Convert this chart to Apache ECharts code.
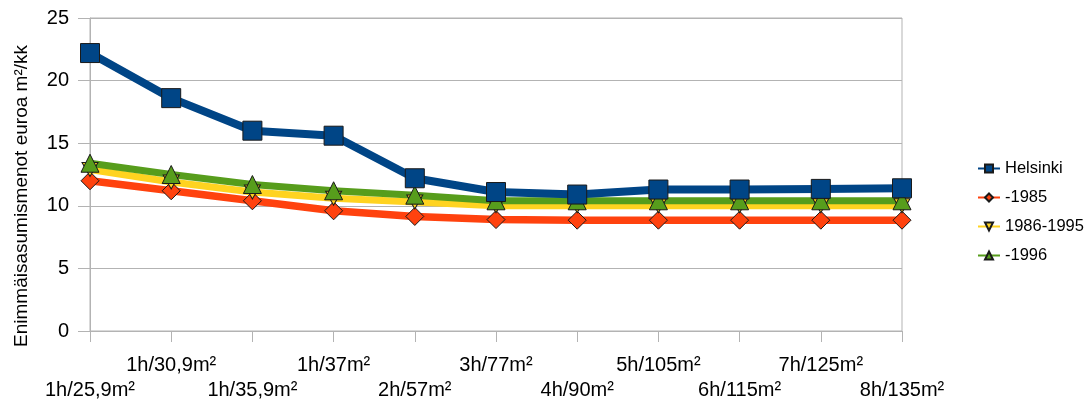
<!DOCTYPE html>
<html>
<head>
<meta charset="utf-8">
<script src="https://cdn.jsdelivr.net/npm/echarts@6/dist/echarts.min.js"></script>
<style>
  html, body { margin: 0; padding: 0; background: #ffffff; }
  #chart { width: 1089px; height: 403px; }
</style>
</head>
<body>
<div id="chart"></div>
<script>
// Apartment size categories (rooms / floor area)
const categories = ['1h/25,9m²', '1h/30,9m²', '1h/35,9m²', '1h/37m²', '2h/57m²', '3h/77m²',
                    '4h/90m²', '5h/105m²', '6h/115m²', '7h/125m²', '8h/135m²'];

// Maximum housing costs, euro per m² per month
const helsinki = [22.2, 18.6, 16.0, 15.6, 12.2, 11.1, 10.9, 11.3, 11.3, 11.35, 11.4];
const upTo1985 = [12.0, 11.2, 10.4, 9.6, 9.15, 8.9, 8.85, 8.85, 8.85, 8.85, 8.85];
const from1986to1995 = [12.9, 11.9, 11.1, 10.6, 10.3, 10.0, 10.0, 10.0, 10.0, 10.0, 10.0];
const from1996 = [13.4, 12.5, 11.7, 11.2, 10.85, 10.4, 10.4, 10.4, 10.4, 10.4, 10.4];

const yTicks = { min: 0, max: 25, interval: 5 };
const yTitle = 'Enimmäisasumismenot euroa m²/kk';

const FONT = '"Liberation Sans", Arial, sans-serif';
const GRID_COLOR = '#b3b3b3';

function lineSeries(name, data, color, symbol, symbolSize, width) {
  return {
    name: name,
    type: 'line',
    data: data,
    symbol: symbol,
    symbolSize: symbolSize,
    showAllSymbol: true,
    lineStyle: { color: color, width: width },
    itemStyle: { color: color, borderColor: '#1a1a1a', borderWidth: 1 },
    emphasis: { disabled: true },
    animation: false
  };
}

const chart = echarts.init(document.getElementById('chart'), null, { renderer: 'canvas' });

chart.setOption({
  backgroundColor: '#ffffff',
  animation: false,
  textStyle: { fontFamily: FONT },
  grid: {
    left: 90, right: 187, top: 18, bottom: 72,
    show: true, borderColor: GRID_COLOR, borderWidth: 1, backgroundColor: 'transparent'
  },
  legend: {
    orient: 'vertical',
    left: 972,
    top: 155,
    itemWidth: 22,
    itemHeight: 10,
    itemGap: 12,
    textStyle: { fontFamily: FONT, fontSize: 16.5, color: '#000000' },
    data: ['Helsinki', '-1985', '1986-1995', '-1996']
  },
  xAxis: {
    type: 'category',
    data: categories,
    boundaryGap: false,
    axisLine: { show: true, lineStyle: { color: GRID_COLOR, width: 1 } },
    axisTick: { show: true, length: 11, alignWithLabel: true, interval: 0, lineStyle: { color: GRID_COLOR } },
    splitLine: { show: false },
    axisLabel: {
      interval: 0,
      hideOverlap: false,
      margin: 22,
      fontFamily: FONT,
      fontSize: 20,
      lineHeight: 25,
      color: '#000000',
      formatter: function (value, index) {
        // alternate rows so the long labels do not collide
        return index % 2 === 0 ? '\n' + value : value;
      }
    }
  },
  yAxis: {
    type: 'value',
    min: yTicks.min,
    max: yTicks.max,
    interval: yTicks.interval,
    axisLine: { show: true, lineStyle: { color: GRID_COLOR, width: 1 } },
    axisTick: { show: true, length: 12, lineStyle: { color: GRID_COLOR } },
    splitLine: { show: true, lineStyle: { color: GRID_COLOR, width: 1 } },
    axisLabel: { margin: 21, fontFamily: FONT, fontSize: 20, color: '#000000' }
  },
  graphic: [{
    type: 'text',
    x: 22,
    y: 196,
    rotation: Math.PI / 2,
    style: {
      text: yTitle,
      fontFamily: FONT,
      fontSize: 19,
      fill: '#000000',
      align: 'center',
      verticalAlign: 'middle'
    }
  }],
  series: [
    lineSeries('-1985', upTo1985, '#ff420e', 'diamond', [18, 18], 7.5),
    lineSeries('1986-1995', from1986to1995, '#ffd320', 'path://M0,0 L10,0 L5,10 Z', [16, 14], 7),
    lineSeries('-1996', from1996, '#579d1c', 'triangle', [18, 18], 7),
    lineSeries('Helsinki', helsinki, '#004586', 'rect', [19, 19], 8)
  ]
});
</script>
</body>
</html>
